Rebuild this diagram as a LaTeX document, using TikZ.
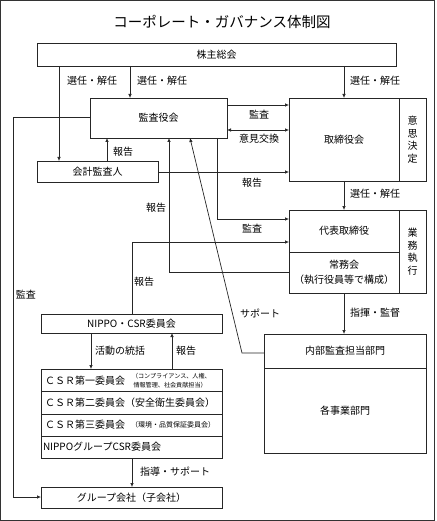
\documentclass[tikz,border=0pt]{standalone}
\usepackage{fontspec}
\setmainfont{Noto Sans CJK JP}
\usetikzlibrary{arrows.meta}
\begin{document}
\begin{tikzpicture}[x=1pt,y=-1pt,
  every node/.style={font=\fontsize{10}{12}\selectfont, inner sep=0pt, outer sep=0pt},
  box/.style={draw=black!85, line width=0.8pt, rectangle, anchor=north west},
  lab/.style={font=\fontsize{10}{12}\selectfont},
  ln/.style={draw=black!85, line width=0.7pt},
  arr/.style={ln, -{Latex[length=4pt,width=3.6pt]}},
  arrboth/.style={ln, {Latex[length=4pt,width=3.6pt]}-{Latex[length=4pt,width=3.6pt]}},
  vtext/.style={align=center, font=\fontsize{10}{12.5}\selectfont},
]
\useasboundingbox (0,0) rectangle (436,521);
\draw[black!80, line width=1.2pt] (0.8,0.8) rectangle (434.6,520.2);

\node (title) at (222,22) {\fontsize{14.5}{16}\selectfont コーポレート・ガバナンス体制図};

% boxes
\node[box, minimum width=359pt, minimum height=23pt] (kabu) at (37,43) {株主総会};
\node[box, minimum width=137pt, minimum height=40pt] (kansa) at (90,98) {監査役会};
\node[box, minimum width=110pt, minimum height=83pt] (tori) at (289,98) {取締役会};
\node[box, minimum width=27pt, minimum height=83pt, vtext] (ishi) at (399,98) {意\\思\\決\\定};
\node[box, minimum width=121pt, minimum height=21pt] (kaikei) at (37,161) {会計監査人};
\node[box, minimum width=110pt, minimum height=42pt] (daihyo) at (289,210) {代表取締役};
\node[box, minimum width=110pt, minimum height=41pt, align=center, font=\fontsize{10}{15}\selectfont] (jomu) at (289,252) {常務会\\（執行役員等で構成）};
\node[box, minimum width=27pt, minimum height=83pt, vtext] (gyomu) at (399,210) {業\\務\\執\\行};
\node[box, minimum width=162pt, minimum height=34pt] (naibu) at (264,334) {内部監査担当部門};
\node[box, minimum width=162pt, minimum height=85pt] (kakuji) at (264,368) {各事業部門};
\node[box, minimum width=181pt, minimum height=19pt] (nippo) at (41,314) {NIPPO・CSR委員会};
\node[box, minimum width=181pt, minimum height=22.5pt] (csr1) at (41,369) {};
\node[box, minimum width=181pt, minimum height=22.5pt] (csr2) at (41,391.5) {};
\node[box, minimum width=181pt, minimum height=22pt] (csr3) at (41,414) {};
\node[box, minimum width=181pt, minimum height=22pt] (csr4) at (41,436) {};
\node[box, minimum width=181pt, minimum height=21pt] (group) at (41,487) {グループ会社（子会社）};

% CSR row texts
\node[anchor=west] (t1) at (45,380.5) {ＣＳＲ第一委員会};
\node[anchor=west, align=left, font=\fontsize{6.1}{9.5}\selectfont] (t1s) at (132,380.5) {（コンプライアンス、人権、\\\hspace*{1.5pt}情報管理、社会貢献担当）};
\node[anchor=west] (t2) at (45,402.8) {ＣＳＲ第二委員会（安全衛生委員会）};
\node[anchor=west] (t3) at (45,425) {ＣＳＲ第三委員会};
\node[anchor=west, font=\fontsize{7}{8}\selectfont] (t3s) at (131,425) {（環境・品質保証委員会）};
\node[anchor=west] (t4) at (43,447) {NIPPOグループCSR委員会};

% coordinates
\coordinate (pA) at (59,0);
\coordinate (pB) at (130,0);
\coordinate (pC) at (344,0);
\coordinate (pD) at (0,105);
\coordinate (pE) at (0,130);
\coordinate (pF) at (107,0);
\coordinate (pG) at (0,172);
\coordinate (pH) at (217,219);
\coordinate (pI) at (169,272);
\coordinate (pJ) at (132,242);
\coordinate (pK) at (242,353);
\coordinate (pL) at (190,0);
\coordinate (pM) at (13,117);
\coordinate (pN) at (13,497);
\coordinate (pO) at (91,0);
\coordinate (pP) at (172,0);

% connectors
\draw[arr] (kabu.south -| pA) -- (kaikei.north -| pA);
\draw[arr] (kabu.south -| pB) -- (kansa.north -| pB);
\draw[arr] (kabu.south -| pC) -- (tori.north -| pC);
\draw[arr] (kansa.east |- pD) -- (tori.west |- pD);
\draw[arrboth] (kansa.east |- pE) -- (tori.west |- pE);
\draw[arr] (kaikei.north -| pF) -- (kansa.south -| pF);
\draw[arr] (kaikei.east |- pG) -- (tori.west |- pG);
\draw[arr] (kansa.south -| pH) -- (pH) -- (daihyo.west |- pH);
\draw[arr] (tori.south -| pC) -- (daihyo.north -| pC);
\draw[arr] (jomu.west |- pI) -- (pI) -- (kansa.south -| pI);
\draw[arr] (nippo.north -| pJ) -- (pJ) -- (daihyo.west |- pJ);
\draw[arr] (naibu.west |- pK) -- (pK) -- (kansa.south -| pL);
\draw[arr] (jomu.south -| pC) -- (naibu.north -| pC);
\draw[arr] (kansa.west |- pM) -- (pM) -- (pN) -- (group.west |- pN);
\draw[arr] (nippo.south -| pO) -- (csr1.north -| pO);
\draw[arr] (csr1.north -| pP) -- (nippo.south -| pP);
\draw[arr] (csr4.south -| pJ) -- (group.north -| pJ);

% labels
\node[lab] (l1) at (92,81) {選任・解任};
\node[lab] (l2) at (162,81) {選任・解任};
\node[lab] (l3) at (375,81) {選任・解任};
\node[lab] (l4) at (375,194) {選任・解任};
\node[lab] (l5) at (259,115) {監査};
\node[lab] (l6) at (259,139) {意見交換};
\node[lab] (l7) at (123,152) {報告};
\node[lab] (l8) at (252,183) {報告};
\node[lab] (l9) at (252,229) {監査};
\node[lab] (l10) at (156,208) {報告};
\node[lab] (l11) at (144,282) {報告};
\node[lab] (l12) at (260,313) {サポート};
\node[lab] (l13) at (375,313) {指揮・監督};
\node[lab] (l14) at (26,295) {監査};
\node[lab] (l15) at (120,351) {活動の統括};
\node[lab] (l16) at (186,351) {報告};
\node[lab] (l17) at (175,472) {指導・サポート};
\end{tikzpicture}
\end{document}
